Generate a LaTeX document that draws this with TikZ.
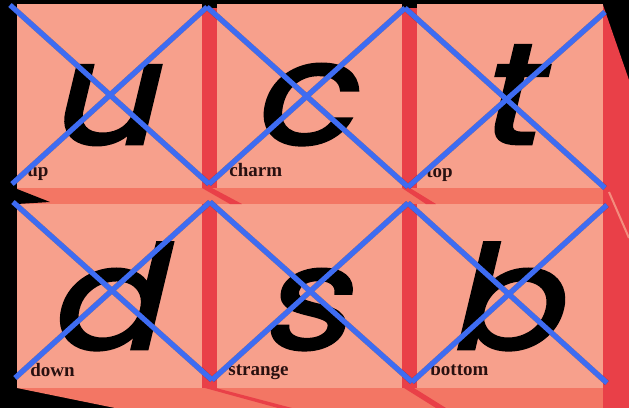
\documentclass[tikz,border=0pt]{standalone}
\usepackage{fontspec}
\newfontfamily\letterfont[FakeSlant=0.24,FakeBold=1.8,FakeStretch=1.18]{Poppins}
\newfontfamily\labelfont{Liberation Serif}
\definecolor{tilec}{RGB}{247,160,140}
\definecolor{redc}{RGB}{233,64,72}
\definecolor{bandc}{RGB}{243,118,100}
\definecolor{xblue}{RGB}{62,108,242}
\definecolor{labeltext}{RGB}{40,16,16}
\begin{document}
\begin{tikzpicture}[x=0.5pt,y=-0.5pt,
  tilebox/.style={fill=tilec},
  redfill/.style={fill=redc},
  bandfill/.style={fill=bandc},
  xline/.style={draw=xblue, line width=2.6pt, line cap=butt},
  xshadow/.style={draw=black, opacity=0.28, line width=2.8pt},
  bigletter/.style={font=\letterfont\fontsize{72}{72}\selectfont, text=black, inner sep=0pt, anchor=base},
  lbl/.style={font=\labelfont\bfseries\fontsize{9.5}{10}\selectfont, text=labeltext, inner sep=0pt, anchor=base west}]
\useasboundingbox (0,0) rectangle (629,408);
\fill[black] (0,0) rectangle (629,408);
% red columns
\fill[redc] (202,8) rectangle (217,390);
\fill[redc] (402,8) rectangle (417,390);
\fill[redc] (603,5) -- (629,80) -- (629,408) -- (603,408) -- cycle;
% tiles
\fill[tilebox] (17,4) rectangle (202,188);
\fill[tilebox] (217,4) rectangle (402,188);
\fill[tilebox] (417,4) rectangle (603,188);
\fill[tilebox] (17,204) rectangle (202,388);
\fill[tilebox] (217,204) rectangle (402,388);
\fill[tilebox] (417,204) rectangle (603,388);
% bands
\fill[bandfill] (17,188) rectangle (603,204);
\fill[bandfill] (17,388) -- (603,388) -- (603,408) -- (115,408) -- cycle;
\fill[black] (17,189) -- (50,202) -- (17,204) -- cycle;
% streaks
\fill[redc] (202,188) -- (212,188) -- (242,204) -- (230,204) -- cycle;
\fill[redc] (402,188) -- (410,188) -- (436,204) -- (426,204) -- cycle;
\fill[redc] (205,388) -- (216,388) -- (292,408) -- (278,408) -- cycle;
\fill[redc] (404,388) -- (414,388) -- (446,408) -- (436,408) -- cycle;
\draw[tilec!80!redc, line width=1pt] (609,192) -- (629,238);
% letters
\node[bigletter] (lu) at (101,144) {u};
\node[bigletter] (lc) at (301,144) {c};
\node[bigletter] (lt) at (506,144) {t};
\node[bigletter] (ld) at (103,349) {d};
\node[bigletter] (ls) at (303,349) {s};
\node[bigletter] (lb) at (503,349) {b};
% labels
\node[lbl] (nup) at (27,176) {up};
\node[lbl] (ncharm) at (229,176) {charm};
\node[lbl] (ntop) at (426,177) {top};
\node[lbl] (ndown) at (30,376) {down};
\node[lbl] (nstrange) at (228,375) {strange};
\node[lbl] (nbottom) at (430,375) {bottom};
% X grid points
\coordinate (a0) at (10,5);  \coordinate (a1) at (207,7);  \coordinate (a2) at (405,8);  \coordinate (a3) at (605,12);
\coordinate (b0) at (12,184); \coordinate (b1) at (209,184); \coordinate (b2) at (408,187); \coordinate (b3) at (605,188);
\coordinate (c0) at (13,202); \coordinate (c1) at (210,202); \coordinate (c2) at (408,203); \coordinate (c3) at (607,205);
\coordinate (d0) at (15,378); \coordinate (d1) at (212,380); \coordinate (d2) at (412,382); \coordinate (d3) at (607,383);
\begin{scope}[shift={(1.5,2.5)}]
\foreach \i/\j in {0/1,1/2,2/3} {
  \draw[xshadow] (a\i) -- (b\j); \draw[xshadow] (b\i) -- (a\j);
  \draw[xshadow] (c\i) -- (d\j); \draw[xshadow] (d\i) -- (c\j);
}
\end{scope}
\foreach \i/\j in {0/1,1/2,2/3} {
  \draw[xline] (a\i) -- (b\j); \draw[xline] (b\i) -- (a\j);
  \draw[xline] (c\i) -- (d\j); \draw[xline] (d\i) -- (c\j);
}
\end{tikzpicture}
\end{document}
